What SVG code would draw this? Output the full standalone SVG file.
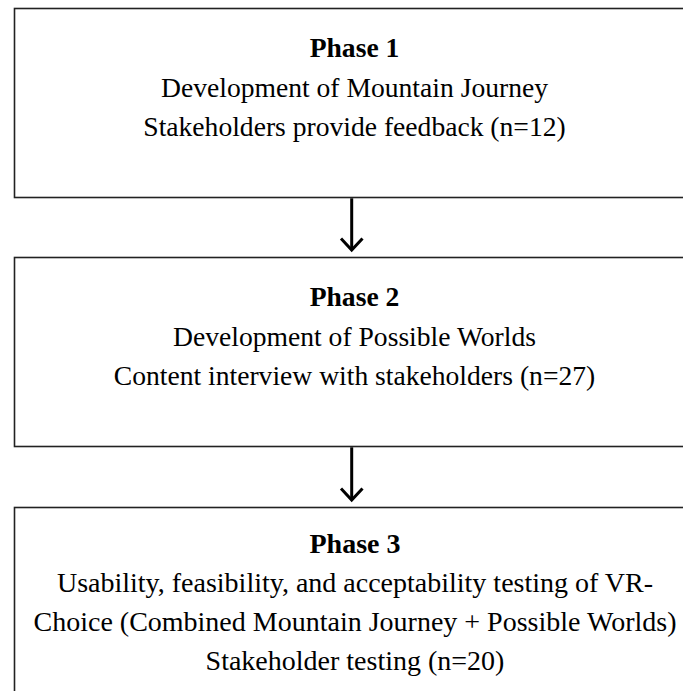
<svg xmlns="http://www.w3.org/2000/svg" width="683" height="691" viewBox="0 0 683 691">
<style>
.box{fill:#fff;stroke:#222;stroke-width:1.6}
.t{font-family:"Liberation Serif","Times New Roman",serif;font-size:27.6px;fill:#000;text-anchor:middle}
.t3{font-size:28px}
.b{font-weight:bold}
.conn{fill:none;stroke:#000;stroke-width:3;stroke-linejoin:miter}
</style>
<rect x="0" y="0" width="683" height="691" fill="#fff"/>
<g id="phase1">
<rect class="box" x="14.5" y="8.5" width="680" height="189"/>
<text class="t b" x="354.5" y="57">Phase 1</text>
<text class="t" x="354.5" y="96.5">Development of Mountain Journey</text>
<text class="t" x="354.5" y="136">Stakeholders provide feedback (n=12)</text>
</g>
<g id="phase2">
<rect class="box" x="14.5" y="257.5" width="680" height="189"/>
<text class="t b" x="354.5" y="306">Phase 2</text>
<text class="t" x="354.5" y="345.5">Development of Possible Worlds</text>
<text class="t" x="354.5" y="385">Content interview with stakeholders (n=27)</text>
</g>
<g id="phase3">
<rect class="box" x="14.5" y="507.5" width="680" height="200"/>
<text class="t t3 b" x="355" y="553">Phase 3</text>
<text class="t t3" x="355" y="592">Usability, feasibility, and acceptability testing of VR-</text>
<text class="t t3" x="355" y="631">Choice (Combined Mountain Journey + Possible Worlds)</text>
<text class="t t3" x="355" y="670">Stakeholder testing (n=20)</text>
</g>
<g id="connectors">
<path class="conn" d="M351.7 198.3V250"/>
<path class="conn" d="M341 238.5L351.7 250L362.5 238.5"/>
<path class="conn" d="M351.7 447.3V500"/>
<path class="conn" d="M341 488.5L351.7 500L362.5 488.5"/>
</g>
</svg>
